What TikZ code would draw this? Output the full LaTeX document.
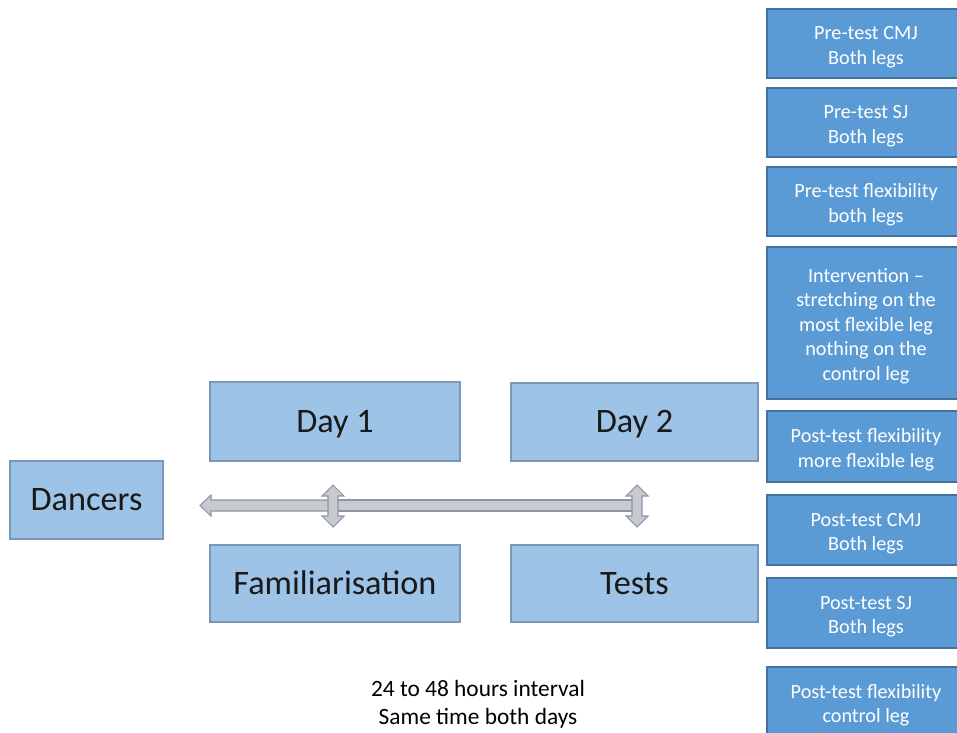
\documentclass[tikz,border=0pt]{standalone}
\usepackage{fontspec}
\setmainfont{Carlito}
\definecolor{lightfill}{HTML}{9DC3E6}
\definecolor{lightline}{HTML}{7A97B8}
\definecolor{darkfill}{HTML}{5B9BD5}
\definecolor{darkline}{HTML}{41719C}
\definecolor{arrowfill}{HTML}{C8CACD}
\definecolor{arrowline}{HTML}{8797A8}
\begin{document}
\begin{tikzpicture}[x=0.02cm, y=-0.02cm,
  bigbox/.style={draw=lightline, line width=0.8pt, fill=lightfill, text=black!90,
    font=\fontsize{19.5}{23}\selectfont, text height=16.2pt, text depth=4pt, inner sep=0pt},
  stepbox/.style={draw=darkline, line width=1pt, fill=darkfill, text=white,
    font=\fontsize{11.5}{13.9}\selectfont, align=center, minimum width=3.96cm, inner sep=0pt},
  timeline/.style={draw=arrowline, line width=0.6pt, fill=arrowfill}]
  \useasboundingbox (0,0) rectangle (957,733);
  \clip (0,0) rectangle (957,733);% right column runs off the page

  % left column
  \node[bigbox, minimum width=3.06cm, minimum height=1.56cm] (dancers) at (86.5,500) {Dancers};
  \node[bigbox, minimum width=5cm, minimum height=1.58cm] (day1) at (335,421.5) {Day 1};
  \node[bigbox, minimum width=4.94cm, minimum height=1.56cm] (day2) at (634.5,422) {Day 2};
  \node[bigbox, minimum width=5cm, minimum height=1.54cm] (famil) at (335,583.5) {Familiarisation};
  \node[bigbox, minimum width=4.94cm, minimum height=1.54cm] (tests) at (634.5,583.5) {Tests};

  % time line
  \coordinate (start) at (200,505.5);
  \coordinate (mark1) at (333,505.5);
  \coordinate (mark2) at (637,505.5);
  \draw[timeline] (start) -- (211,495) -- (211,500) -- (333,500) -- (333,511) -- (211,511) -- (211,516) -- cycle;% left arrow
  \draw[timeline] (333,500) rectangle (637,511);% bar
  \foreach \x in {333, 637} {
    \draw[timeline] (\x,485) -- (\x+11,496) -- (\x+5,496) -- (\x+5,516) -- (\x+11,516) -- (\x,527)
      -- (\x-11,516) -- (\x-5,516) -- (\x-5,496) -- (\x-11,496) -- cycle;
  }

  \node[font=\fontsize{13.3}{15.9}\selectfont, align=center] (interval) at (478,704)
    {24 to 48 hours interval\\Same time both days};

  % right column
  \foreach \i/\yc/\boxh/\txt in {1/43.5/69/{Pre-test CMJ\\Both legs},
      2/122.5/69/{Pre-test SJ\\Both legs},
      3/201.5/69/{Pre-test flexibility\\both legs},
      4/323/152/{Intervention \textendash\\stretching on the\\most flexible leg\\nothing on the\\control leg},
      5/446.5/71/{Post-test flexibility\\more flexible leg},
      6/530/70/{Post-test CMJ\\Both legs},
      7/613/70/{Post-test SJ\\Both legs},
      8/702/70/{Post-test flexibility\\control leg}} {
    \node[stepbox, minimum height=\boxh*0.02cm] (test\i) at (866,\yc) {\rule{0pt}{11.5pt}\txt};
  }
\end{tikzpicture}
\end{document}
